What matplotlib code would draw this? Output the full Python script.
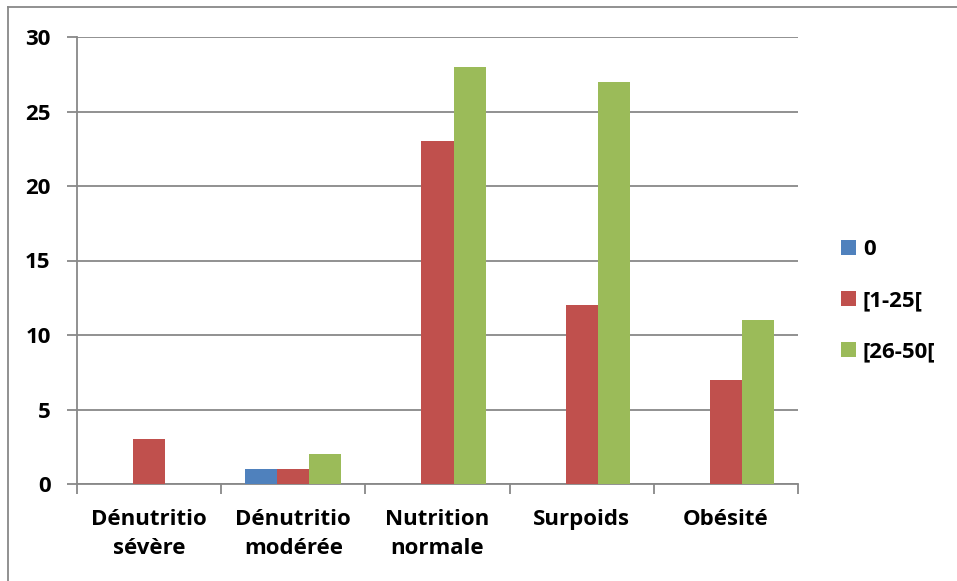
import matplotlib
matplotlib.use("Agg")
import matplotlib.pyplot as plt
import numpy as np
from matplotlib.lines import Line2D
from matplotlib.patches import Patch

categories = ["Dénutritio\nsévère", "Dénutritio\nmodérée", "Nutrition\nnormale", "Surpoids", "Obésité"]
series_names = ["0", "[1-25[", "[26-50["]
values_0 = [0, 1, 0, 0, 0]
values_1_25 = [3, 1, 23, 12, 7]
values_26_50 = [0, 2, 28, 27, 11]
y_ticks = [0, 5, 10, 15, 20, 25, 30]

colors = ["#4F81BD", "#C0504D", "#9BBB59"]
grid_color = "#888888"
FW = "bold"
FS = 16

plt.rcParams["font.family"] = ["Open Sans", "DejaVu Sans"]

W, H = 957, 581
fig = plt.figure(figsize=(W / 100, H / 100), dpi=100)
fig.patch.set_facecolor("white")

left, right, top, bottom = 77, 798, 37, 484
ax = fig.add_axes([left / W, 1 - bottom / H, (right - left) / W, (bottom - top) / H])

x = np.arange(len(categories))
bw = 1 / 4.5
series = [values_0, values_1_25, values_26_50]
for i, (vals, c, name) in enumerate(zip(series, colors, series_names)):
    ax.bar(x + (i - 1) * bw, vals, width=bw, color=c, label=name, zorder=3)

ax.set_xlim(-0.5, len(categories) - 0.5)
ax.set_ylim(0, 30)
ax.set_yticks(y_ticks)
ax.set_yticklabels([str(t) for t in y_ticks], fontsize=FS, fontweight=FW)
ax.set_xticks(x)
ax.set_xticklabels(categories, fontsize=FS, fontweight=FW, linespacing=1.53)
ax.set_xticks(np.arange(len(categories) + 1) - 0.5, minor=True)

ax.yaxis.grid(True, color=grid_color, linewidth=1.3, zorder=0)
ax.set_axisbelow(True)
for s in ["top", "right"]:
    ax.spines[s].set_visible(False)
for s in ["left", "bottom"]:
    ax.spines[s].set_color(grid_color)
    ax.spines[s].set_linewidth(1.3)

ax.tick_params(axis="y", which="major", length=7, width=1.3, color=grid_color, pad=12)
ax.tick_params(axis="x", which="major", length=0, pad=18)
ax.tick_params(axis="x", which="minor", length=7, width=1.3, color=grid_color)

handles = [Patch(facecolor=c, edgecolor="none") for c in colors]
leg = fig.legend(handles, series_names, loc="upper left",
                 bbox_to_anchor=(821 / W, 1 - 219 / H), frameon=False,
                 prop={"size": FS, "weight": FW},
                 handlelength=0.68, handleheight=0.68, handletextpad=0.3,
                 labelspacing=1.36)

# outer chart frame (left and top edges)
fig.add_artist(Line2D([8 / W, 8 / W], [0, 1 - 7 / H], color=grid_color, linewidth=1.3))
fig.add_artist(Line2D([8 / W, 1], [1 - 7 / H, 1 - 7 / H], color=grid_color, linewidth=1.3))

fig.savefig("out.png", dpi=100)
